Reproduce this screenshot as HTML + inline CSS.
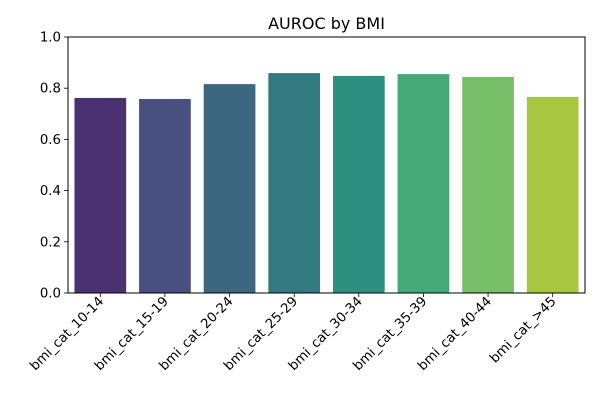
<!DOCTYPE html>
<html><head><meta charset="utf-8"><style>
body{margin:0;background:#fff;font-family:"DejaVu Sans","Liberation Sans",sans-serif}
</style></head><body>
<svg id="chart" width="600" height="400" xmlns="http://www.w3.org/2000/svg" font-family="DejaVu Sans, Liberation Sans, sans-serif"></svg>
<script>
const categories=["bmi_cat_10-14","bmi_cat_15-19","bmi_cat_20-24","bmi_cat_25-29","bmi_cat_30-34","bmi_cat_35-39","bmi_cat_40-44","bmi_cat_>45"];
const values=[0.762,0.758,0.816,0.859,0.848,0.855,0.844,0.766];
const colors=["#4a316f","#475080","#3d6680","#327a7f","#2d8f80","#45a877","#77be68","#a9c641"];
const yTicks=[0,0.2,0.4,0.6,0.8,1.0];
const tickLabels=["0.0","0.2","0.4","0.6","0.8","1.0"];
const svg=document.getElementById('chart');
const NS="http://www.w3.org/2000/svg";
const L=68,R=585,T=37,B=293;
const y=v=>B-(v-0)/(1-0)*(B-T);
const band=(R-L)/categories.length;
const x=i=>L+band*i+band*0.1;
function mk(t,a){const e=document.createElementNS(NS,t);for(const k in a)e.setAttribute(k,a[k]);svg.appendChild(e);return e;}
const title=mk('text',{x:(L+R)/2,y:29,'text-anchor':'middle','font-size':16,fill:'#000'});
title.textContent="AUROC by BMI";


values.forEach((v,i)=>{
  const r=mk('rect',{x:x(i),y:y(v),width:band*0.8,height:B-y(v),fill:colors[i]});
  
  
  mk('line',{x1:x(i)+band*0.4,x2:x(i)+band*0.4,y1:B,y2:B+4,stroke:'#000','stroke-width':0.8});
  const t=mk('text',{transform:`translate(${x(i)+band*0.4+4},${B+9}) rotate(-45)`,'text-anchor':'end','font-size':13.3,fill:'#000'});
  t.textContent=categories[i];
  
  
});
yTicks.forEach((v,i)=>{
  mk('line',{x1:L-4,x2:L,y1:y(v),y2:y(v),stroke:'#000','stroke-width':0.8});
  const t=mk('text',{x:L-7,y:y(v)+4.5,'text-anchor':'end','font-size':13.3,fill:'#000'});
  t.textContent=tickLabels[i];
  
  
});
const frame=mk('rect',{x:L,y:T,width:R-L,height:B-T,fill:'none',stroke:'#000','stroke-width':1});


</script>
</body></html>
